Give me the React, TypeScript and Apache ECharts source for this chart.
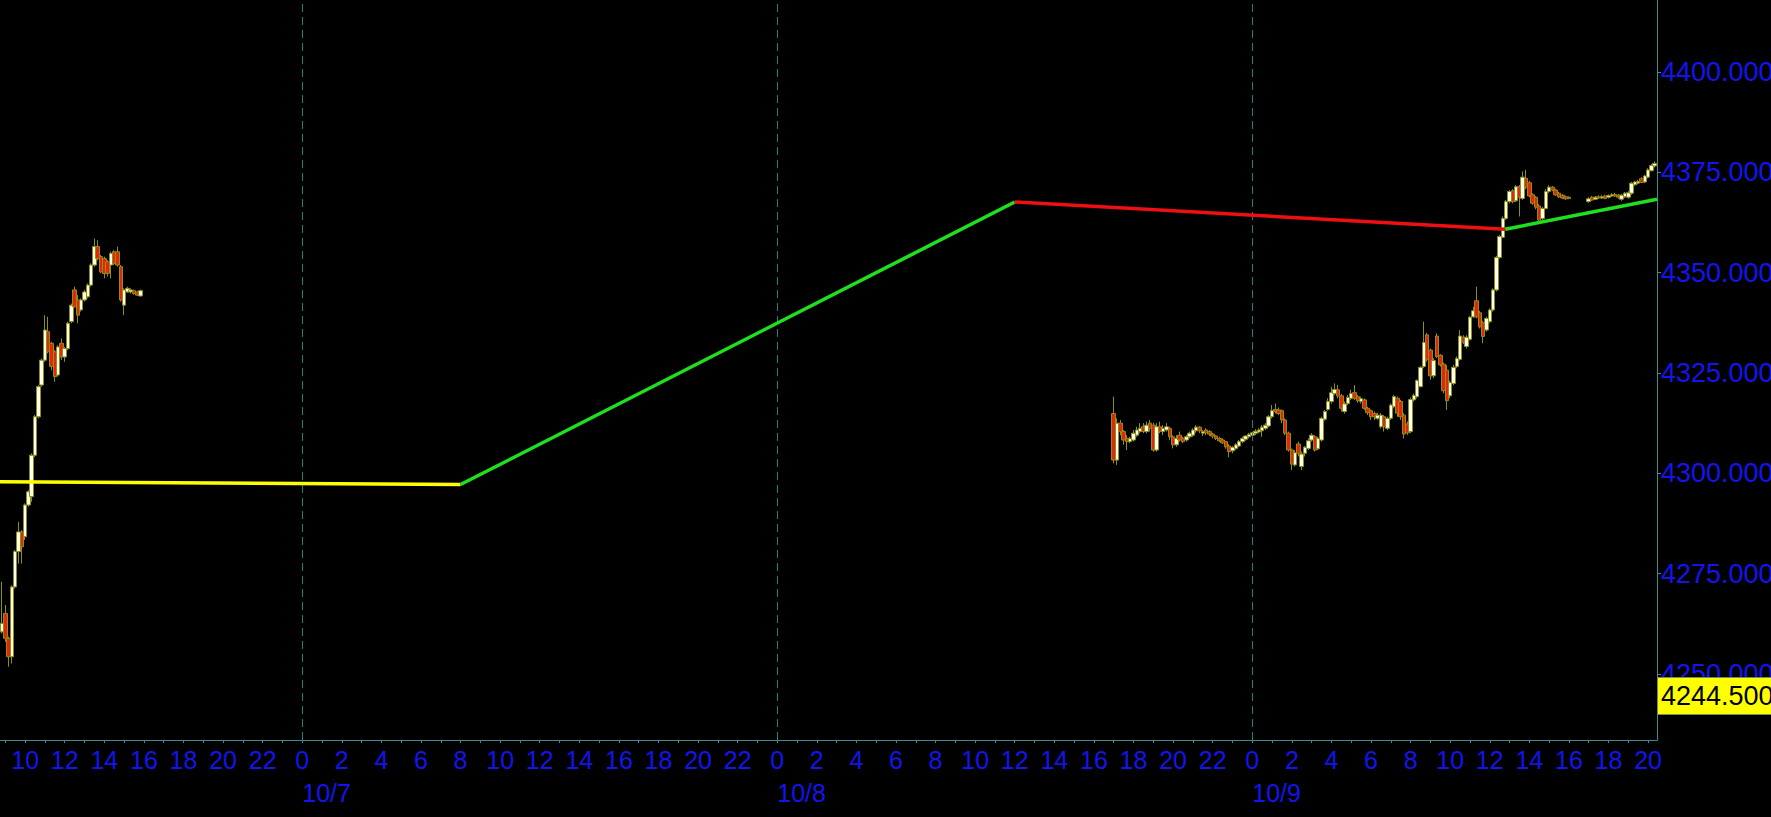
import React, { useEffect, useRef } from 'react';
import * as echarts from 'echarts';

// x values are hours counted from 10/7 00:00, one candle every 10 minutes
const CANDLE_STEP = 1 / 6;
const X_MIN = -15.27;
const X_MAX = 68.45;
const Y_MIN = 4233.55;
const Y_MAX = 4417.94;

const session1Start = -15 - 10 / 60; // 10/6 08:50
const session2Start = 41; // 10/8 17:00
const session3Start = 65; // 10/9 17:00

// [open, close, low, high]
const session1 = [
  [4260.5, 4262.6, 4260.1, 4273.0], [4265.1, 4258.9, 4258.0, 4267.2], [4258.9, 4254.3, 4251.8, 4259.3],
  [4254.3, 4271.7, 4252.6, 4272.1], [4271.7, 4280.5, 4271.3, 4280.9], [4280.5, 4285.4, 4277.5, 4287.9],
  [4285.4, 4281.7, 4277.5, 4285.8], [4284.2, 4292.1, 4283.4, 4292.5], [4292.1, 4295.4, 4291.7, 4295.8],
  [4294.2, 4304.5, 4292.9, 4305.0], [4304.5, 4314.1, 4304.1, 4314.5], [4314.1, 4321.6, 4313.7, 4322.0],
  [4322.0, 4328.2, 4321.6, 4328.6], [4328.2, 4335.7, 4327.8, 4339.4], [4335.3, 4330.3, 4329.9, 4339.0],
  [4332.4, 4326.6, 4325.7, 4332.8], [4330.3, 4324.1, 4322.8, 4330.7], [4324.5, 4331.5, 4324.1, 4331.9],
  [4332.4, 4329.0, 4328.2, 4333.6], [4329.0, 4331.1, 4327.8, 4331.5], [4331.1, 4337.4, 4330.7, 4337.8],
  [4337.8, 4341.9, 4337.4, 4342.3], [4345.7, 4341.5, 4341.3, 4346.5], [4343.2, 4339.4, 4337.4, 4344.4],
  [4340.7, 4343.2, 4340.3, 4343.6], [4343.2, 4345.2, 4342.8, 4345.7], [4344.0, 4346.9, 4343.6, 4347.3],
  [4346.9, 4351.9, 4346.5, 4352.3], [4351.9, 4356.5, 4351.5, 4358.5], [4356.5, 4353.5, 4353.1, 4358.1],
  [4354.0, 4350.2, 4349.8, 4354.4], [4353.5, 4349.8, 4348.6, 4354.0], [4352.7, 4349.8, 4349.0, 4353.1],
  [4351.9, 4354.8, 4348.6, 4355.2], [4355.2, 4352.3, 4351.9, 4355.6], [4355.2, 4351.9, 4351.5, 4356.5],
  [4351.5, 4343.2, 4342.8, 4351.9], [4341.9, 4345.7, 4339.4, 4346.1], [4345.2, 4346.1, 4345.0, 4346.5],
  [4345.2, 4345.7, 4344.8, 4346.1], [4345.5, 4344.8, 4344.5, 4345.8], [4345.2, 4344.4, 4344.2, 4345.5],
  [4344.2, 4345.5, 4344.0, 4345.8],
];

const session2 = [
  [4314.9, 4303.3, 4302.5, 4319.1], [4303.3, 4312.5, 4302.1, 4313.7], [4312.5, 4310.4, 4309.5, 4313.3],
  [4310.4, 4308.3, 4307.1, 4310.8], [4308.7, 4307.9, 4305.8, 4309.5], [4307.9, 4308.7, 4307.5, 4309.1],
  [4308.3, 4310.0, 4307.9, 4310.8], [4309.5, 4310.8, 4309.1, 4311.6], [4310.4, 4311.2, 4310.0, 4312.5],
  [4311.6, 4310.4, 4310.0, 4312.5], [4310.4, 4312.0, 4310.0, 4312.9], [4312.5, 4311.2, 4310.4, 4313.3],
  [4312.0, 4305.8, 4305.4, 4312.6], [4305.8, 4311.6, 4305.4, 4312.5], [4311.6, 4310.4, 4310.0, 4312.9],
  [4310.4, 4311.2, 4309.5, 4312.0], [4310.8, 4311.6, 4310.4, 4312.5], [4311.2, 4309.1, 4308.3, 4311.6],
  [4309.1, 4307.1, 4306.2, 4309.5], [4307.1, 4308.7, 4306.6, 4309.5], [4309.5, 4308.3, 4307.9, 4310.4],
  [4308.7, 4307.9, 4307.5, 4309.1], [4308.3, 4309.1, 4307.9, 4309.5], [4309.1, 4310.0, 4308.7, 4310.4],
  [4309.5, 4310.8, 4309.1, 4311.2], [4310.6, 4311.5, 4310.1, 4312.0], [4311.5, 4310.6, 4310.0, 4311.8],
  [4310.0, 4310.4, 4309.3, 4310.8], [4310.8, 4310.1, 4309.5, 4311.2], [4310.4, 4309.8, 4309.3, 4310.8],
  [4309.8, 4309.3, 4308.7, 4310.1], [4309.3, 4308.7, 4308.3, 4309.5], [4308.7, 4308.1, 4307.8, 4309.1],
  [4308.3, 4307.6, 4307.3, 4308.7], [4307.9, 4306.6, 4306.1, 4308.1], [4306.8, 4305.4, 4304.0, 4307.3],
  [4305.6, 4306.5, 4305.0, 4306.8], [4306.2, 4307.1, 4305.8, 4307.5], [4306.8, 4307.9, 4306.5, 4308.3],
  [4307.9, 4308.7, 4307.5, 4309.1], [4308.5, 4309.3, 4308.1, 4309.5], [4309.1, 4309.7, 4308.7, 4310.1],
  [4309.5, 4310.1, 4309.1, 4310.4], [4310.0, 4310.5, 4309.5, 4311.0], [4310.3, 4310.8, 4310.0, 4311.2],
  [4310.6, 4311.5, 4309.1, 4312.0], [4311.2, 4312.0, 4310.8, 4312.5], [4311.8, 4314.1, 4311.5, 4314.5],
  [4314.1, 4315.6, 4313.7, 4317.0], [4315.9, 4315.4, 4314.9, 4317.4], [4315.8, 4314.9, 4314.5, 4316.4],
  [4315.6, 4313.3, 4312.5, 4315.9], [4313.3, 4310.0, 4309.5, 4313.7], [4310.0, 4305.8, 4305.4, 4310.4],
  [4305.8, 4302.3, 4300.8, 4306.2], [4302.1, 4305.1, 4301.7, 4305.8], [4307.3, 4305.0, 4304.2, 4307.9],
  [4301.7, 4304.8, 4300.8, 4305.4], [4305.0, 4306.5, 4304.2, 4306.8], [4306.2, 4308.1, 4305.8, 4308.7],
  [4308.3, 4309.5, 4307.9, 4310.0], [4309.1, 4305.8, 4305.4, 4309.5], [4306.1, 4308.7, 4305.8, 4309.1],
  [4308.3, 4313.7, 4307.9, 4314.1], [4313.5, 4315.4, 4313.1, 4315.8], [4315.9, 4317.9, 4315.6, 4318.7],
  [4317.9, 4320.1, 4317.4, 4321.6], [4319.9, 4320.9, 4319.5, 4322.4], [4320.8, 4319.3, 4318.7, 4322.0],
  [4319.3, 4316.2, 4315.4, 4319.8], [4315.4, 4317.3, 4314.9, 4317.9], [4317.4, 4318.9, 4317.0, 4319.5],
  [4318.7, 4319.9, 4318.3, 4320.8], [4320.1, 4318.7, 4318.3, 4322.0], [4319.1, 4318.1, 4317.6, 4319.5],
  [4317.9, 4318.6, 4317.4, 4319.1], [4318.3, 4316.2, 4315.8, 4318.7], [4316.2, 4315.1, 4314.5, 4316.6],
  [4315.6, 4314.1, 4313.3, 4315.9], [4314.9, 4314.1, 4313.3, 4315.4], [4313.7, 4314.5, 4313.3, 4315.1],
  [4311.6, 4314.5, 4311.2, 4315.0], [4314.1, 4311.6, 4310.4, 4314.5], [4311.2, 4313.7, 4310.8, 4314.1],
  [4313.7, 4317.0, 4313.3, 4317.4], [4316.6, 4319.1, 4316.2, 4319.5], [4318.7, 4315.0, 4314.1, 4319.1],
  [4317.9, 4314.1, 4313.3, 4318.3], [4314.5, 4309.8, 4308.7, 4315.0], [4312.3, 4310.1, 4309.6, 4312.9],
  [4310.4, 4318.4, 4310.0, 4318.9], [4318.3, 4319.4, 4317.9, 4319.9], [4319.1, 4323.1, 4318.7, 4323.4],
  [4321.6, 4326.4, 4321.4, 4326.7], [4326.6, 4332.6, 4326.2, 4337.8], [4334.5, 4328.4, 4327.8, 4335.0],
  [4330.7, 4324.3, 4323.3, 4331.1], [4324.3, 4328.1, 4323.7, 4328.7], [4334.2, 4329.1, 4328.7, 4334.9],
  [4329.4, 4327.0, 4326.6, 4329.7], [4327.2, 4320.6, 4319.9, 4327.6], [4325.7, 4318.1, 4315.8, 4327.0],
  [4319.3, 4322.6, 4318.7, 4323.1], [4322.4, 4326.4, 4322.0, 4327.0], [4326.6, 4328.6, 4326.2, 4329.1],
  [4328.4, 4334.2, 4328.1, 4335.7], [4333.9, 4332.7, 4332.2, 4334.4], [4331.6, 4333.9, 4331.1, 4334.4],
  [4333.4, 4338.9, 4333.1, 4339.2], [4339.0, 4340.5, 4338.7, 4341.5], [4343.0, 4339.0, 4338.6, 4346.5],
  [4340.0, 4336.5, 4336.1, 4340.5], [4337.5, 4334.1, 4332.4, 4338.0], [4335.7, 4338.6, 4335.3, 4339.0],
  [4337.8, 4340.7, 4337.4, 4341.1], [4340.7, 4345.7, 4340.3, 4346.1], [4345.7, 4353.8, 4345.3, 4354.2],
  [4353.8, 4359.0, 4353.5, 4359.4], [4358.8, 4363.5, 4358.6, 4364.0], [4363.5, 4367.7, 4363.1, 4368.1],
  [4367.7, 4370.2, 4367.3, 4370.6], [4370.4, 4367.7, 4367.3, 4370.8], [4367.9, 4371.4, 4367.6, 4371.8],
  [4371.4, 4368.8, 4364.0, 4371.8], [4368.5, 4373.8, 4368.1, 4375.2], [4373.5, 4371.3, 4370.8, 4375.6],
  [4372.4, 4369.1, 4368.8, 4372.9], [4369.4, 4367.3, 4366.9, 4369.8], [4368.8, 4366.3, 4365.8, 4369.1],
  [4366.6, 4363.1, 4363.0, 4367.1], [4363.5, 4366.0, 4363.1, 4366.4], [4366.0, 4370.2, 4365.8, 4370.8],
  [4370.2, 4371.3, 4369.9, 4371.8], [4371.3, 4370.6, 4370.3, 4371.6], [4370.6, 4369.4, 4369.1, 4370.9],
  [4369.8, 4368.9, 4368.6, 4370.1], [4369.3, 4368.6, 4368.3, 4369.6], [4368.9, 4368.4, 4368.1, 4369.2],
  [4368.8, 4368.5, 4368.3, 4369.0],
];

const session3 = [
  [4367.7, 4368.4, 4367.4, 4368.8], [4368.8, 4368.1, 4367.9, 4369.1], [4368.3, 4368.8, 4368.1, 4369.1],
  [4368.9, 4368.6, 4368.4, 4369.3], [4368.6, 4368.9, 4368.4, 4369.3], [4369.1, 4368.5, 4368.3, 4369.4],
  [4368.8, 4369.2, 4368.5, 4369.5], [4369.1, 4369.4, 4368.9, 4369.8], [4369.5, 4369.1, 4368.9, 4369.9],
  [4369.3, 4368.8, 4368.4, 4369.6], [4368.3, 4369.3, 4367.9, 4369.6], [4368.9, 4369.8, 4368.6, 4370.1],
  [4368.8, 4369.9, 4368.4, 4370.3], [4369.8, 4372.3, 4369.4, 4372.6], [4371.9, 4372.6, 4371.6, 4372.9],
  [4372.3, 4372.7, 4372.0, 4373.1], [4373.4, 4372.5, 4372.3, 4373.8], [4372.6, 4374.1, 4372.3, 4374.4],
  [4373.8, 4375.6, 4373.5, 4376.0], [4375.4, 4376.7, 4375.2, 4377.1], [4376.6, 4377.2, 4376.2, 4377.7],
];

// trend line segments: [hour, price]
const yellowLine = [[-16, 4297.9], [8, 4297.2]];
const greenLine1 = [[8, 4297.2], [36, 4367.6]];
const redLine = [[36, 4367.6], [60.78, 4360.8]];
const greenLine2 = [[60.78, 4360.8], [68.45, 4368.3]];

const priceTicks = [4250, 4275, 4300, 4325, 4350, 4375, 4400];
const dayTicks = [0, 24, 48];
const dayNames = ['10/7', '10/8', '10/9'];
const lastPrice = 4244.5;

const AXIS_COLOR = '#3f8c8c';
const LABEL_COLOR = '#1414ee';
const FONT = 'Liberation Sans';

const hourTicks: number[] = [];
for (let h = Math.ceil(X_MIN); h <= X_MAX; h++) hourTicks.push(h);
const hourLabels = hourTicks.filter((h) => ((h % 2) + 2) % 2 === 0);

const toCandles = (rows: number[][], start: number) =>
  rows.map((r, i) => [start + i * CANDLE_STEP, r[0], r[1], r[2], r[3]]);

const lineSeries = (data: number[][], color: string) => ({
  type: 'line',
  data,
  symbol: 'none',
  z: 5,
  lineStyle: { color, width: 3.5 },
});

const App: React.FC = () => {
  const chartRef = useRef<HTMLDivElement>(null);

  useEffect(() => {
    if (!chartRef.current) return;
    const chart = echarts.init(chartRef.current, null, { renderer: 'svg' });

    const candles = [
      ...toCandles(session1, session1Start),
      ...toCandles(session2, session2Start),
      ...toCandles(session3, session3Start),
    ];

    const option = {
      animation: false,
      backgroundColor: '#000000',
      grid: { left: 0, right: 114, top: 0, bottom: 77, containLabel: false, outerBoundsMode: 'none' },
      xAxis: [
        {
          type: 'value',
          position: 'bottom',
          min: X_MIN,
          max: X_MAX,
          axisLine: { show: true, onZero: false, lineStyle: { color: AXIS_COLOR, width: 1 } },
          axisTick: { show: true, customValues: hourTicks, length: 3, lineStyle: { color: AXIS_COLOR } },
          axisLabel: {
            customValues: hourLabels,
            formatter: (v: number) => String(((Math.round(v) % 24) + 24) % 24),
            color: LABEL_COLOR,
            fontSize: 25,
            fontFamily: FONT,
            margin: 7,
            hideOverlap: false,
          },
          splitLine: { show: false },
        },
        {
          type: 'value',
          position: 'bottom',
          min: X_MIN,
          max: X_MAX,
          axisLine: { show: false, onZero: false },
          axisTick: { show: false, customValues: dayTicks },
          axisLabel: {
            customValues: dayTicks,
            formatter: (v: number) => dayNames[dayTicks.indexOf(Math.round(v))] ?? '',
            color: LABEL_COLOR,
            fontSize: 25,
            fontFamily: FONT,
            align: 'left',
            margin: 40,
            hideOverlap: false,
          },
          splitLine: { show: false },
        },
      ],
      yAxis: {
        type: 'value',
        position: 'right',
        min: Y_MIN,
        max: Y_MAX,
        axisLine: { show: true, onZero: false, lineStyle: { color: AXIS_COLOR, width: 1 } },
        axisTick: { show: true, customValues: priceTicks, length: 4, lineStyle: { color: AXIS_COLOR } },
        axisLabel: {
          customValues: priceTicks,
          formatter: (v: number) => v.toFixed(3),
          color: LABEL_COLOR,
          fontSize: 27,
          fontFamily: FONT,
          margin: 4,
          hideOverlap: false,
        },
        splitLine: { show: false },
      },
      series: [
        {
          type: 'candlestick',
          data: candles,
          encode: { x: 0, y: [1, 2, 3, 4] },
          barWidth: 4,
          z: 3,
          itemStyle: {
            color: '#fffff0',
            color0: '#e6260c',
            borderColor: '#8f8f14',
            borderColor0: '#8f8f14',
            borderWidth: 1,
          },
          markLine: {
            silent: true,
            symbol: 'none',
            animation: false,
            data: [
              ...dayTicks.map((d) => ({
                xAxis: d,
                label: { show: false },
                lineStyle: { color: '#1f807c', type: [8, 5], width: 1 },
              })),
              {
                yAxis: lastPrice,
                lineStyle: { color: 'rgba(0,0,0,0)', width: 1 },
                label: {
                  show: true,
                  position: 'end',
                  distance: 1,
                  formatter: lastPrice.toFixed(3),
                  color: '#000000',
                  fontSize: 27,
                  fontFamily: FONT,
                  backgroundColor: '#ffff00',
                  borderColor: '#6f8f4f',
                  borderWidth: 1,
                  padding: [4, 40, 3, 3],
                  lineHeight: 29,
                },
              },
            ],
          },
        },
        lineSeries(yellowLine, '#ffff00'),
        lineSeries(greenLine1, '#1fe01f'),
        lineSeries(redLine, '#ee1010'),
        lineSeries(greenLine2, '#1fe01f'),
      ],
    };

    chart.setOption(option as echarts.EChartsOption);

    return () => {
      chart.dispose();
    };
  }, []);

  return (
    <div
      ref={chartRef}
      style={{ position: 'fixed', left: 0, top: 0, width: 1771, height: 817, background: '#000' }}
    />
  );
};

export default App;
